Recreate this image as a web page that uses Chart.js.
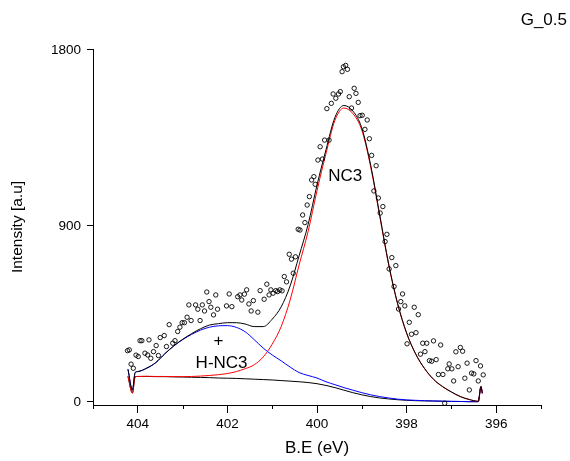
<!DOCTYPE html>
<html><head><meta charset="utf-8">
<script src="https://cdn.jsdelivr.net/npm/chart.js@4"></script>
<style>html,body{margin:0;padding:0;background:#fff;}#wrap{width:570px;height:461px;}</style>
</head><body><div id="wrap"><canvas id="c" width="570" height="461"></canvas></div>
<script>
// ---- measured points (binding energy, intensity) ----
const pointBE = [404.23,404.19,404.15,404.10,404.04,403.99,403.95,403.91,403.84,403.78,403.75,403.71,403.65,403.59,403.54,403.50,403.41,403.36,403.30,403.22,403.17,403.11,403.06,403.01,402.96,402.90,402.86,402.81,402.71,402.66,402.61,402.56,402.51,402.46,402.41,402.37,402.31,402.26,402.22,402.02,401.96,401.90,401.77,401.72,401.68,401.62,401.57,401.52,401.47,401.42,401.32,401.27,401.18,401.12,401.07,401.03,400.98,400.92,400.88,400.83,400.78,400.73,400.68,400.62,400.57,400.53,400.48,400.42,400.38,400.32,400.27,400.22,400.17,400.12,400.07,400.04,399.98,399.93,399.88,399.83,399.78,399.73,399.68,399.64,399.58,399.52,399.48,399.44,399.41,399.36,399.32,399.28,399.23,399.17,399.13,399.08,399.04,398.99,398.93,398.88,398.83,398.78,398.73,398.68,398.63,398.59,398.53,398.48,398.44,398.39,398.33,398.28,398.24,398.18,398.13,398.09,398.04,397.99,397.94,397.89,397.83,397.79,397.74,397.69,397.64,397.59,397.55,397.49,397.44,397.40,397.34,397.29,397.24,397.19,397.15,397.08,397.05,396.99,396.95,396.90,396.85,396.80,396.75,396.70,396.65,396.60,396.55,396.50,396.45,396.40,396.35,396.29];
const pointIntensity = [262,266,193,172,239,232,313,313,249,240,317,223,257,288,237,329,339,283,395,300,313,360,382,405,405,433,496,416,496,474,416,496,465,562,513,484,445,547,474,491,552,487,538,547,521,551,573,501,465,518,459,569,525,602,547,573,556,569,564,573,568,641,614,755,730,658,742,883,879,956,917,1007,1050,1135,1152,1113,1237,1305,1242,1339,1500,1339,1527,1575,1553,1575,1587,1689,1714,1721,1701,1561,1503,1604,1578,1532,1464,1466,1394,1442,1346,1261,1079,1208,1043,966,999,820,857,680,738,590,697,475,513,552,491,297,407,346,484,354,446,244,300,257,300,211,208,312,216,140,291,140,-7,169,194,169,107,256,180,278,259,121,198,61,147,143,211,107,184,138];

// ---- fitted curves ----
const curveBE = [404.22,404.12,404.06,404.0,403.8,403.6,403.4,403.2,403.0,402.8,402.6,402.4,402.2,402.0,401.8,401.6,401.4,401.2,401.0,400.8,400.6,400.4,400.2,400.0,399.8,399.6,399.4,399.2,399.0,398.8,398.6,398.4,398.2,398.0,397.8,397.6,397.4,397.2,397.0,396.8,396.6,396.4,396.34,396.31];
const envelope = [167,60,150,155,173,201,246,286,320,349,374,393,400,405,405,398,385,385,423,486,593,747,906,1109,1289,1455,1516,1488,1401,1209,957,705,503,353,247,171,116,79,51,27,12,3,78,44];
const nc3 = [130,45,128,130,131,130,130,129,129,130,132,135,139,145,155,170,190,230,295,385,521,700,870,1080,1270,1440,1503,1475,1390,1200,950,700,500,351,245,170,115,78,50,27,12,3,78,44];
const hnc3 = [167,60,150,155,172,200,245,285,318,345,367,382,389,390,381,358,318,275,240,210,178,150,135,122,103,88,73,60,47,36,27,20,14,10,8,6,5,4,3,2,1,1,78,44];
const background = [130,45,128,130,130,129,129,128,127,126,125,124,122,121,120,118,116,114,112,109,106,103,99,93,84,73,60,47,36,27,20,15,11,8,6,5,4,3,2,2,1,1,78,44];

// ---- axes ----
const xMajorTicks = [404,402,400,398,396];
const xMinorTicks = [405,403,401,399,397,395];
const yTicks = [0,900,1800];
const peakLabels = [{text:'NC3', x:399.37, y:1155},{text:'+', x:402.2, y:308},{text:'H-NC3', x:402.13, y:198}];
const cornerLabel = 'G_0.5';

const FAM = '"Liberation Sans", Arial, Helvetica, sans-serif';
const toXY = (xs, ys) => xs.map((x,i)=>({x:x, y:ys[i]}));

const extras = {
  id:'extras',
  afterDraw(chart){
    const ctx = chart.ctx, xs = chart.scales.x, ys = chart.scales.y, ca = chart.chartArea;
    ctx.save();
    ctx.strokeStyle = '#000'; ctx.lineWidth = 1;
    xMinorTicks.forEach(v=>{
      const px = Math.round(xs.getPixelForValue(v)) + 0.5;
      ctx.beginPath(); ctx.moveTo(px, ca.bottom); ctx.lineTo(px, ca.bottom + 4); ctx.stroke();
    });
    ctx.fillStyle = '#000';
    ctx.font = '17px ' + FAM;
    ctx.textAlign = 'center'; ctx.textBaseline = 'middle';
    peakLabels.forEach(l=>{
      ctx.fillText(l.text, xs.getPixelForValue(l.x), ys.getPixelForValue(l.y));
    });
    ctx.textAlign = 'right';
    ctx.fillText(cornerLabel, 567, 20);
    ctx.restore();
  }
};

new Chart(document.getElementById('c'), {
  type:'line',
  data:{
    datasets:[
      {type:'scatter', label:'data', data:toXY(pointBE, pointIntensity), showLine:false,
       pointRadius:2.2, pointBorderWidth:0.9, pointBorderColor:'#000', pointBackgroundColor:'rgba(0,0,0,0)', order:0},
      {label:'envelope', data:toXY(curveBE, envelope), borderColor:'#000', borderWidth:1, pointRadius:0, fill:false, cubicInterpolationMode:'monotone', order:1},
      {label:'NC3', data:toXY(curveBE, nc3), borderColor:'#ff0000', borderWidth:1, pointRadius:0, fill:false, cubicInterpolationMode:'monotone', order:2},
      {label:'H-NC3', data:toXY(curveBE, hnc3), borderColor:'#0000ff', borderWidth:1, pointRadius:0, fill:false, cubicInterpolationMode:'monotone', order:3},
      {label:'background', data:toXY(curveBE, background), borderColor:'#000', borderWidth:1, pointRadius:0, fill:false, cubicInterpolationMode:'monotone', order:4}
    ]
  },
  options:{
    responsive:false, animation:false, devicePixelRatio:1,
    layout:{padding:{top:49, right:29, left:0, bottom:0}},
    plugins:{legend:{display:false}, tooltip:{enabled:false}, title:{display:false}},
    scales:{
      x:{type:'linear', reverse:true, min:395, max:405,
        afterBuildTicks:s=>{ s.ticks = [...xMajorTicks, ...xMinorTicks].sort((a,b)=>a-b).map(v=>({value:v})); },
        ticks:{autoSkip:false, maxRotation:0, color:'#000', padding:3, font:{size:13.5, family:FAM},
          callback:v=> xMajorTicks.includes(v) ? String(v) : ''},
        grid:{drawOnChartArea:false, drawTicks:true, tickLength:8, tickWidth:1,
          tickColor:c=> (c.tick && xMajorTicks.includes(c.tick.value)) ? '#000' : 'rgba(0,0,0,0)'},
        border:{display:true, color:'#000', width:1},
        title:{display:true, text:'B.E (eV)', color:'#000', font:{size:17, family:FAM}, padding:{top:0, bottom:2}},
        afterFit:s=>{ s.height = 56; }
      },
      y:{type:'linear', min:-16, max:1805,
        afterBuildTicks:s=>{ s.ticks = yTicks.map(v=>({value:v})); },
        ticks:{color:'#000', padding:6, font:{size:13.5, family:FAM}, callback:v=>String(v)},
        grid:{drawOnChartArea:false, drawTicks:true, tickLength:6, tickWidth:1, tickColor:'#000'},
        border:{display:true, color:'#000', width:1},
        title:{display:true, text:'Intensity [a.u]', color:'#000', font:{size:15.5, family:FAM}, padding:{top:8, bottom:0}},
        afterFit:s=>{ s.width = 93; }
      }
    }
  },
  plugins:[extras]
});
</script></body></html>
